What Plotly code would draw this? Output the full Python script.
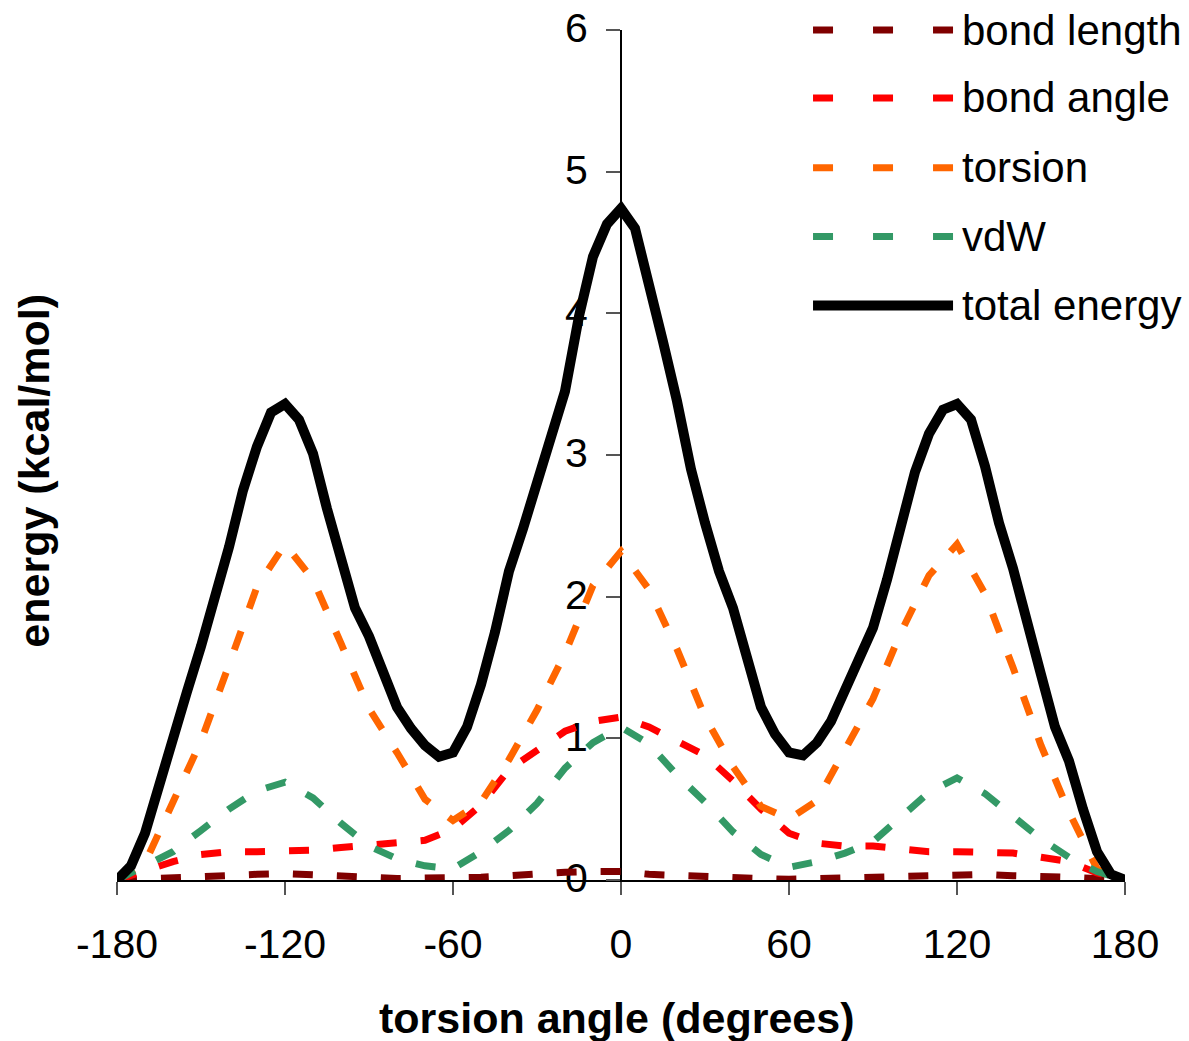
import plotly.graph_objects as go

# Torsion-angle scan: component energies every 10 degrees, total every 5 degrees
angle = [-180, -170, -160, -150, -140, -130, -120, -110, -100, -90, -80, -70, -60,
         -50, -40, -30, -20, -10, 0, 10, 20, 30, 40, 50, 60, 70, 80, 90, 100,
         110, 120, 130, 140, 150, 160, 170, 180]

bond_length = [0.0, 0.01, 0.02, 0.03, 0.035, 0.04, 0.045, 0.04, 0.03, 0.02, 0.01, 0.01, 0.01,
               0.02, 0.03, 0.045, 0.055, 0.06, 0.06, 0.04, 0.03, 0.03, 0.02, 0.01, 0.005,
               0.01, 0.02, 0.025, 0.03, 0.035, 0.045, 0.04, 0.03, 0.03, 0.02, 0.01, 0.0]

bond_angle = [0.0, 0.07, 0.13, 0.18, 0.20, 0.20, 0.20, 0.21, 0.23, 0.25, 0.26, 0.28, 0.36,
              0.53, 0.78, 0.92, 1.05, 1.12, 1.15, 1.08, 0.98, 0.88, 0.70, 0.50, 0.33,
              0.26, 0.24, 0.24, 0.22, 0.20, 0.20, 0.20, 0.19, 0.16, 0.13, 0.05, 0.0]

torsion = [0.0, 0.12, 0.55, 0.98, 1.52, 2.07, 2.37, 2.12, 1.67, 1.21, 0.90, 0.57, 0.42,
           0.55, 0.85, 1.20, 1.60, 2.08, 2.32, 2.05, 1.63, 1.15, 0.80, 0.52, 0.43,
           0.56, 0.92, 1.28, 1.75, 2.15, 2.37, 2.02, 1.50, 0.95, 0.48, 0.08, 0.0]

vdw = [0.0, 0.10, 0.20, 0.35, 0.50, 0.63, 0.69, 0.58, 0.40, 0.24, 0.15, 0.10, 0.08,
       0.20, 0.35, 0.54, 0.79, 0.97, 1.08, 0.96, 0.74, 0.55, 0.34, 0.18, 0.09,
       0.13, 0.19, 0.27, 0.45, 0.62, 0.72, 0.61, 0.45, 0.29, 0.16, 0.06, 0.0]

angle_fine = list(range(-180, 181, 5))
total_energy = [0.0, 0.10, 0.33, 0.68, 0.97, 1.33, 1.65, 1.98, 2.35, 2.75, 3.06, 3.30, 3.36,
                3.25, 3.01, 2.62, 2.25, 1.92, 1.72, 1.45, 1.22, 1.07, 0.95, 0.87, 0.90,
                1.08, 1.38, 1.75, 2.18, 2.48, 2.80, 3.10, 3.45, 3.98, 4.40, 4.63, 4.74,
                4.60, 4.22, 3.80, 3.38, 2.90, 2.52, 2.18, 1.92, 1.55, 1.22, 1.03, 0.90,
                0.88, 0.97, 1.12, 1.33, 1.58, 1.78, 2.12, 2.48, 2.88, 3.15, 3.32, 3.36,
                3.25, 2.92, 2.52, 2.20, 1.80, 1.45, 1.08, 0.84, 0.50, 0.20, 0.04, 0.0]

series_names = ["bond length", "bond angle", "torsion", "vdW", "total energy"]
series_colors = ["#800000", "#FF0000", "#FF6600", "#339966", "#000000"]

FONT = "Liberation Sans, Arial, sans-serif"
DASH = "20px,24px"

fig = go.Figure()
components = [bond_length, bond_angle, torsion, vdw]
for name, color, values in zip(series_names[:4], series_colors[:4], components):
    fig.add_trace(go.Scatter(x=angle, y=values, mode="lines", name=name,
                             line=dict(color=color, width=7, dash=DASH),
                             showlegend=False))
fig.add_trace(go.Scatter(x=angle_fine, y=total_energy, mode="lines", name=series_names[4],
                         line=dict(color=series_colors[4], width=10),
                         showlegend=False))

# Legend block in the upper right: line sample + label per series
legend_rows = [1.0, 0.92, 0.838, 0.757, 0.676]
for name, color, yrow in zip(series_names, series_colors, legend_rows):
    is_total = name == "total energy"
    fig.add_shape(type="line", xref="paper", yref="paper",
                  x0=0.6905, x1=0.8294, y0=yrow, y1=yrow,
                  line=dict(color=color, width=10 if is_total else 7,
                            dash="solid" if is_total else "20px,40px"))
    fig.add_annotation(xref="paper", yref="paper", x=0.8363, y=yrow,
                       xanchor="left", yanchor="middle", showarrow=False,
                       text=name, font=dict(family=FONT, size=42, color="black"))

# Axis titles
fig.add_annotation(xref="paper", yref="paper", x=0.496, y=-0.162,
                   xanchor="center", yanchor="middle", showarrow=False,
                   text="<b>torsion angle (degrees)</b>",
                   font=dict(family=FONT, size=43, color="black"))
fig.add_annotation(xref="paper", yref="paper", x=-0.082, y=0.482,
                   xanchor="center", yanchor="middle", showarrow=False, textangle=-90,
                   text="<b>energy (kcal/mol)</b>",
                   font=dict(family=FONT, size=43, color="black"))

fig.update_layout(
    width=1189, height=1041,
    margin=dict(l=117, r=64, t=30, b=161, autoexpand=False),
    paper_bgcolor="white", plot_bgcolor="white",
    font=dict(family=FONT, size=41, color="black"),
    xaxis=dict(range=[-180, 180], tickvals=[-180, -120, -60, 0, 60, 120, 180],
               ticktext=["-180", "-120", "-60", "0", "60", "120", "180"],
               showgrid=False, zeroline=False, showline=True, linecolor="black",
               linewidth=2, ticks="outside", ticklen=13, tickwidth=2, tickcolor="#555555",
               ticklabelstandoff=14, layer="below traces", automargin=False,
               tickfont=dict(family=FONT, size=41, color="black")),
    yaxis=dict(range=[0, 6], tickvals=[0, 1, 2, 3, 4, 5, 6],
               showgrid=False, zeroline=False, showline=True, linecolor="black",
               linewidth=2, ticks="outside", ticklen=14, tickwidth=2, tickcolor="#555555",
               anchor="free", position=0.5, side="left", ticklabelstandoff=10,
               ticklabelshift=-2, layer="below traces", automargin=False,
               tickfont=dict(family=FONT, size=41, color="black")),
)

fig.write_html("out.html")
